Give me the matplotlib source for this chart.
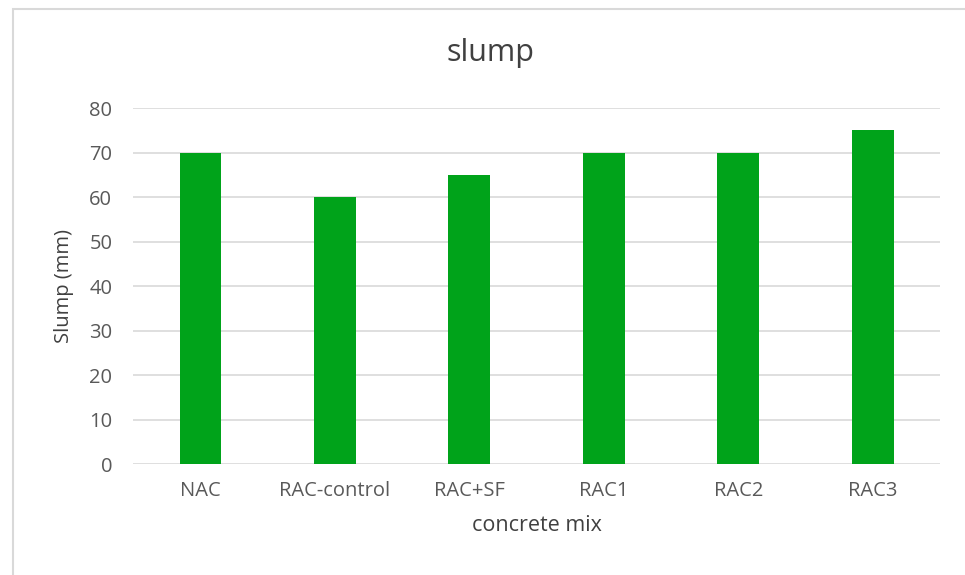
import matplotlib.pyplot as plt
from matplotlib.patches import Rectangle

mixes = ['NAC', 'RAC-control', 'RAC+SF', 'RAC1', 'RAC2', 'RAC3']
slump = [70, 60, 65, 70, 70, 75]

plt.rcParams['font.family'] = ['Open Sans', 'DejaVu Sans']

fig = plt.figure(figsize=(9.65, 5.75), dpi=100)
ax = fig.add_axes([0.138, 0.193, 0.836, 0.619])

ax.bar(range(len(mixes)), slump, width=0.31, color='#00a31a', zorder=3)

ax.set_xlim(-0.5, len(mixes) - 0.5)
ax.set_ylim(0, 80)
ax.set_yticks(range(0, 81, 10))
ax.set_xticks(range(len(mixes)))
ax.set_xticklabels(mixes)
ax.grid(axis='y', color='#d9d9d9', lw=1.2, zorder=0)
for s in ax.spines.values():
    s.set_visible(False)
ax.tick_params(length=0, labelsize=14.5, colors='#595959')
ax.tick_params(axis='y', pad=15)
ax.tick_params(axis='x', pad=12)

fig.text(491 / 965, 1 - 53 / 575, 'slump', fontsize=22, color='#404040',
         ha='center', va='center')
ax.set_ylabel('Slump (mm)', fontsize=14.5, color='#404040', labelpad=11)
ax.set_xlabel('concrete mix', fontsize=15.5, color='#404040', labelpad=10)

# chart area border
fig.add_artist(Rectangle((13 / 965, -0.1), 1.2, 1.1 - 9 / 575,
                         transform=fig.transFigure, fill=False,
                         edgecolor='#d9d9d9', lw=1.5))

fig.savefig('out.png', dpi=100)
